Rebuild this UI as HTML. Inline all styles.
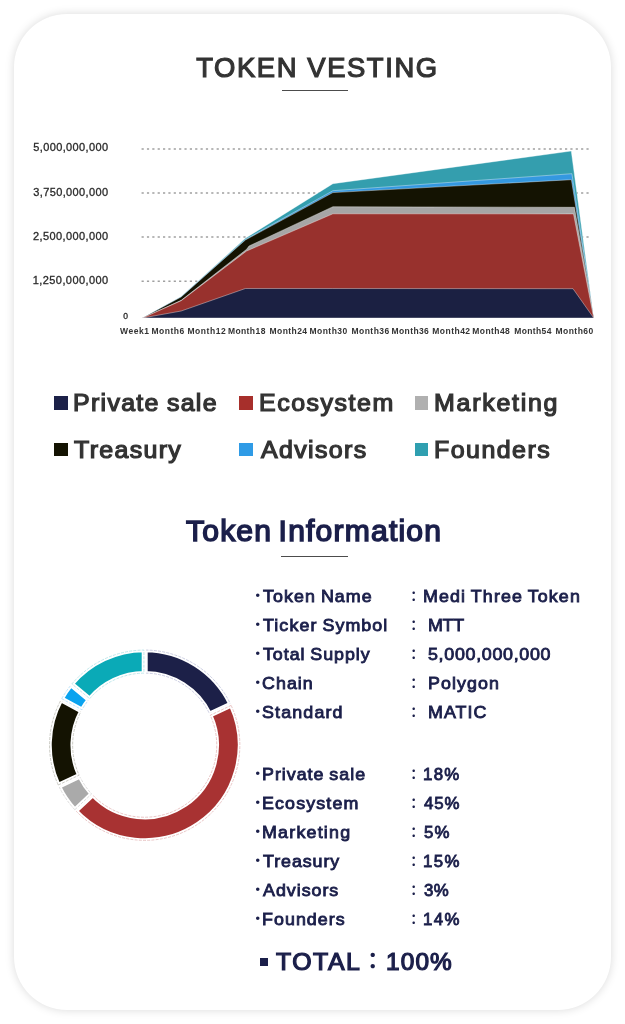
<!DOCTYPE html>
<html lang="en"><head><meta charset="utf-8"><title>Token Vesting</title>
<style>
html,body{margin:0;padding:0}
body{width:625px;height:1024px;background:#fff;position:relative;overflow:hidden;font-family:"Liberation Sans","Noto Sans CJK JP",sans-serif;}
.card{position:absolute;left:14px;top:13.8px;width:597px;height:996.2px;border-radius:53px;background:#fff;box-shadow:0 0 10px rgba(0,0,0,.15);}
.chart,.donut{position:absolute;left:0;top:0}
span,i{position:absolute;white-space:nowrap;display:block;transform-origin:0 0}
.t1{font-size:27.4px;line-height:30px;color:#333;-webkit-text-stroke:1.2px #333}
.t2{font-size:28.8px;line-height:34px;color:#1b1f4a;-webkit-text-stroke:1.45px #1b1f4a}
.ul{position:absolute;height:1.6px;background:#4c4c4c}
.xl{font-size:8.5px;line-height:10px;font-weight:bold;color:#333}
.yl{font-size:11px;line-height:14px;color:#2a2a2a;-webkit-text-stroke:.3px #2a2a2a}
.z{font-size:8.5px;line-height:10px}
.sq{width:13.5px;height:13.6px}
.lg{font-size:23.3px;line-height:28px;color:#333;-webkit-text-stroke:1.2px #333}
.in{font-size:17px;line-height:20px;color:#1b1f4a;-webkit-text-stroke:.85px #1b1f4a}
.bu,.co{font-weight:bold;color:#1b1f4a;line-height:20px}
.bu{left:251px;font-size:13.5px;margin-top:-.6px}
.co{left:407px;font-size:13.4px}
.tsq{left:259.5px;top:957.8px;width:8px;height:8px;background:#1b1f4a}
.tt{font-size:23px;line-height:28px;color:#1b1f4a;-webkit-text-stroke:1.2px #1b1f4a}
.tc{font-size:23px;line-height:28px;font-weight:bold;color:#1b1f4a}
</style></head><body>
<div class="card"></div>
<div class="ul" style="left:281.8px;top:89.6px;width:66.7px"></div>
<svg class="chart" width="625" height="360" viewBox="0 0 625 360">
<line x1="141.56" y1="148.9" x2="589.2" y2="148.9" stroke="#a0a0a0" stroke-width="1.5" stroke-dasharray="2.2 3.16"/>
<line x1="141.56" y1="192.9" x2="589.2" y2="192.9" stroke="#a0a0a0" stroke-width="1.5" stroke-dasharray="2.2 3.16"/>
<line x1="141.56" y1="237.1" x2="589.2" y2="237.1" stroke="#a0a0a0" stroke-width="1.5" stroke-dasharray="2.2 3.16"/>
<line x1="141.56" y1="281.3" x2="589.2" y2="281.3" stroke="#a0a0a0" stroke-width="1.5" stroke-dasharray="2.2 3.16"/>
<polygon points="142.5,318 181.2,296.5 245.4,238.3 332.9,183.7 571.25,151.0 593.7,318" fill="#349eae" stroke="rgba(255,255,255,0.55)" stroke-width="0.7" stroke-linejoin="round"/>
<polygon points="142.5,318 181.2,296.7 245.4,239.4 332.9,190.7 571.9,173.7 593.7,318" fill="#3498e0" stroke="rgba(255,255,255,0.55)" stroke-width="0.7" stroke-linejoin="round"/>
<polygon points="142.5,318 181.2,296.9 245.4,240.0 332.9,192.6 571.4,179.7 593.7,318" fill="#141302" stroke="rgba(255,255,255,0.55)" stroke-width="0.7" stroke-linejoin="round"/>
<polygon points="142.5,318 181.2,300.3 246.6,249.3 249,246.0 332.9,206.7 574.4,207.3 593.7,318" fill="#a6a6a6" stroke="rgba(255,255,255,0.55)" stroke-width="0.7" stroke-linejoin="round"/>
<polygon points="142.5,318 181.2,300.7 246.6,251.0 332.9,213.8 573.5,213.9 593.7,318" fill="#98312d" stroke="rgba(255,255,255,0.55)" stroke-width="0.7" stroke-linejoin="round"/>
<polygon points="142.5,318 181.2,311.0 245.4,288.5 332.9,288.5 573.0,288.7 593.7,318" fill="#1b2042" stroke="rgba(255,255,255,0.55)" stroke-width="0.7" stroke-linejoin="round"/>
</svg>
<i class="sq" style="left:54.0px;top:396.2px;background:#1c2148"></i><i class="sq" style="left:239.3px;top:396.1px;background:#a72f2b"></i><i class="sq" style="left:414.8px;top:396.2px;background:#b0b0b0"></i><i class="sq" style="left:54.0px;top:442.9px;background:#141302"></i><i class="sq" style="left:239.3px;top:442.9px;background:#2f9be6"></i><i class="sq" style="left:414.8px;top:442.9px;background:#2f9fb0"></i>
<div class="ul" style="left:281.1px;top:555.6px;width:66.7px"></div>
<svg class="donut" width="625" height="1024" viewBox="0 0 625 1024">
<path d="M145.50,650.05 A95.15,95.15 0 0 1 230.45,703.96 L209.55,713.80 A72.05,72.05 0 0 0 145.50,673.15 Z" fill="#1c2048" stroke="#fff" stroke-width="4.4"/>
<path d="M145.50,650.05 A95.15,95.15 0 0 1 230.45,703.96 L209.55,713.80 A72.05,72.05 0 0 0 145.50,673.15 Z" fill="none" stroke="#b4b7d4" stroke-width="0.7" stroke-dasharray="3 1.2"/>
<path d="M231.13,705.41 A95.15,95.15 0 0 1 75.89,810.92 L92.73,795.10 A72.05,72.05 0 0 0 210.23,715.25 Z" fill="#a83232" stroke="#fff" stroke-width="4.4"/>
<path d="M231.13,705.41 A95.15,95.15 0 0 1 75.89,810.92 L92.73,795.10 A72.05,72.05 0 0 0 210.23,715.25 Z" fill="none" stroke="#e0aeae" stroke-width="0.7" stroke-dasharray="3 1.2"/>
<path d="M74.79,809.75 A95.15,95.15 0 0 1 58.95,786.44 L79.85,776.60 A72.05,72.05 0 0 0 91.63,793.94 Z" fill="#aaaaaa" stroke="#fff" stroke-width="4.4"/>
<path d="M74.79,809.75 A95.15,95.15 0 0 1 58.95,786.44 L79.85,776.60 A72.05,72.05 0 0 0 91.63,793.94 Z" fill="none" stroke="#cfcfcf" stroke-width="0.7" stroke-dasharray="3 1.2"/>
<path d="M58.27,784.99 A95.15,95.15 0 0 1 60.94,700.06 L81.18,711.19 A72.05,72.05 0 0 0 79.17,775.15 Z" fill="#141302" stroke="#fff" stroke-width="4.4"/>
<path d="M58.27,784.99 A95.15,95.15 0 0 1 60.94,700.06 L81.18,711.19 A72.05,72.05 0 0 0 79.17,775.15 Z" fill="none" stroke="#b5b5aa" stroke-width="0.7" stroke-dasharray="3 1.2"/>
<path d="M61.71,698.66 A95.15,95.15 0 0 1 70.88,685.17 L88.68,699.89 A72.05,72.05 0 0 0 81.95,709.79 Z" fill="#0aa3ef" stroke="#fff" stroke-width="4.4"/>
<path d="M61.71,698.66 A95.15,95.15 0 0 1 70.88,685.17 L88.68,699.89 A72.05,72.05 0 0 0 81.95,709.79 Z" fill="none" stroke="#a6d8f5" stroke-width="0.7" stroke-dasharray="3 1.2"/>
<path d="M71.90,683.93 A95.15,95.15 0 0 1 143.90,650.05 L143.90,673.15 A72.05,72.05 0 0 0 89.70,698.66 Z" fill="#0aaab7" stroke="#fff" stroke-width="4.4"/>
<path d="M71.90,683.93 A95.15,95.15 0 0 1 143.90,650.05 L143.90,673.15 A72.05,72.05 0 0 0 89.70,698.66 Z" fill="none" stroke="#a6dde3" stroke-width="0.7" stroke-dasharray="3 1.2"/>
</svg>
<span class="t1" style="left:196.20px;top:52.51px;letter-spacing:1.60px">TOKEN VESTING</span>
<span class="t2" style="left:186.30px;top:513.82px;letter-spacing:1.13px;transform:scaleX(1.045);word-spacing:-3px">Token Information</span>
<span class="yl" style="left:33.25px;top:140.39px;letter-spacing:0.38px">5,000,000,000</span>
<span class="yl" style="left:33.25px;top:184.59px;letter-spacing:0.38px">3,750,000,000</span>
<span class="yl" style="left:33.00px;top:228.79px;letter-spacing:0.40px">2,500,000,000</span>
<span class="yl" style="left:32.75px;top:272.79px;letter-spacing:0.42px">1,250,000,000</span>
<span class="yl z" style="left:123.15px;top:311.15px;letter-spacing:0.00px">0</span>
<span class="xl" style="left:120.00px;top:326.25px;letter-spacing:0.58px">Week1</span>
<span class="xl" style="left:151.50px;top:326.25px;letter-spacing:0.50px">Month6</span>
<span class="xl" style="left:187.50px;top:326.25px;letter-spacing:0.53px">Month12</span>
<span class="xl" style="left:227.90px;top:326.25px;letter-spacing:0.42px">Month18</span>
<span class="xl" style="left:269.50px;top:326.25px;letter-spacing:0.43px">Month24</span>
<span class="xl" style="left:309.50px;top:326.25px;letter-spacing:0.47px">Month30</span>
<span class="xl" style="left:351.50px;top:326.25px;letter-spacing:0.47px">Month36</span>
<span class="xl" style="left:391.50px;top:326.25px;letter-spacing:0.40px">Month36</span>
<span class="xl" style="left:432.30px;top:326.25px;letter-spacing:0.47px">Month42</span>
<span class="xl" style="left:472.30px;top:326.25px;letter-spacing:0.43px">Month48</span>
<span class="xl" style="left:514.30px;top:326.25px;letter-spacing:0.36px">Month54</span>
<span class="xl" style="left:555.50px;top:326.25px;letter-spacing:0.47px">Month60</span>
<span class="lg" style="left:72.70px;top:389.23px;letter-spacing:1.22px;transform:scaleX(1.07);word-spacing:-1px">Private sale</span>
<span class="lg" style="left:258.50px;top:389.23px;letter-spacing:1.44px;transform:scaleX(1.07);word-spacing:-1px">Ecosystem</span>
<span class="lg" style="left:433.70px;top:389.23px;letter-spacing:1.64px;transform:scaleX(1.07);word-spacing:-1px">Marketing</span>
<span class="lg" style="left:74.20px;top:436.03px;letter-spacing:1.25px;transform:scaleX(1.07);word-spacing:-1px">Treasury</span>
<span class="lg" style="left:260.75px;top:436.03px;letter-spacing:1.28px;transform:scaleX(1.07);word-spacing:-1px">Advisors</span>
<span class="lg" style="left:433.70px;top:436.03px;letter-spacing:1.38px;transform:scaleX(1.07);word-spacing:-1px">Founders</span>
<span class="in" style="left:262.60px;top:587.01px;letter-spacing:1.01px;transform:scaleX(1.05);word-spacing:-1px">Token Name</span>
<span class="in" style="left:262.60px;top:615.91px;letter-spacing:1.03px;transform:scaleX(1.05);word-spacing:-1px">Ticker Symbol</span>
<span class="in" style="left:262.60px;top:644.91px;letter-spacing:0.90px;transform:scaleX(1.05);word-spacing:-1px">Total Supply</span>
<span class="in" style="left:262.10px;top:673.81px;letter-spacing:0.98px;transform:scaleX(1.05);word-spacing:-1px">Chain</span>
<span class="in" style="left:262.35px;top:702.81px;letter-spacing:1.10px;transform:scaleX(1.05);word-spacing:-1px">Standard</span>
<span class="in" style="left:423.00px;top:587.01px;letter-spacing:1.06px;transform:scaleX(1.05);word-spacing:-1px">Medi Three Token</span>
<span class="in" style="left:427.80px;top:615.91px;letter-spacing:-0.26px;transform:scaleX(1.05);word-spacing:-1px">MTT</span>
<span class="in" style="left:428.15px;top:644.91px;letter-spacing:0.66px;transform:scaleX(1.05);word-spacing:-1px">5,000,000,000</span>
<span class="in" style="left:427.70px;top:673.81px;letter-spacing:1.01px;transform:scaleX(1.05);word-spacing:-1px">Polygon</span>
<span class="in" style="left:427.70px;top:702.81px;letter-spacing:0.98px;transform:scaleX(1.05);word-spacing:-1px">MATIC</span>
<span class="in" style="left:261.70px;top:765.11px;letter-spacing:0.94px;transform:scaleX(1.05);word-spacing:-1px">Private sale</span>
<span class="in" style="left:261.70px;top:794.11px;letter-spacing:1.08px;transform:scaleX(1.05);word-spacing:-1px">Ecosystem</span>
<span class="in" style="left:261.70px;top:823.11px;letter-spacing:1.16px;transform:scaleX(1.05);word-spacing:-1px">Marketing</span>
<span class="in" style="left:262.70px;top:852.11px;letter-spacing:0.88px;transform:scaleX(1.05);word-spacing:-1px">Treasury</span>
<span class="in" style="left:263.20px;top:881.11px;letter-spacing:0.93px;transform:scaleX(1.05);word-spacing:-1px">Advisors</span>
<span class="in" style="left:261.70px;top:910.11px;letter-spacing:0.99px;transform:scaleX(1.05);word-spacing:-1px">Founders</span>
<span class="in" style="left:423.45px;top:765.11px;letter-spacing:1.34px;transform:scaleX(0.99)">18%</span>
<span class="in" style="left:424.20px;top:794.11px;letter-spacing:0.96px;transform:scaleX(0.99)">45%</span>
<span class="in" style="left:423.95px;top:823.11px;letter-spacing:1.11px;transform:scaleX(0.99)">5%</span>
<span class="in" style="left:423.45px;top:852.11px;letter-spacing:1.44px;transform:scaleX(0.99)">15%</span>
<span class="in" style="left:423.95px;top:881.11px;letter-spacing:0.51px;transform:scaleX(0.99)">3%</span>
<span class="in" style="left:423.45px;top:910.11px;letter-spacing:1.44px;transform:scaleX(0.99)">14%</span>
<span class="tt" style="left:276.10px;top:947.63px;letter-spacing:1.41px;transform:scaleX(1.08)">TOTAL</span>
<span class="tt" style="left:386.35px;top:947.63px;letter-spacing:1.07px;transform:scaleX(1.06)">100%</span>

<span class="bu" style="top:586.9px">・</span><span class="co" style="top:586.9px">：</span><span class="bu" style="top:615.8px">・</span><span class="co" style="top:615.8px">：</span><span class="bu" style="top:644.8px">・</span><span class="co" style="top:644.8px">：</span><span class="bu" style="top:673.7px">・</span><span class="co" style="top:673.7px">：</span><span class="bu" style="top:702.7px">・</span><span class="co" style="top:702.7px">：</span><span class="bu" style="top:765px">・</span><span class="co" style="top:765px">：</span><span class="bu" style="top:794px">・</span><span class="co" style="top:794px">：</span><span class="bu" style="top:823px">・</span><span class="co" style="top:823px">：</span><span class="bu" style="top:852px">・</span><span class="co" style="top:852px">：</span><span class="bu" style="top:881px">・</span><span class="co" style="top:881px">：</span><span class="bu" style="top:910px">・</span><span class="co" style="top:910px">：</span>
<i class="tsq"></i><span class="tc" style="left:361.3px;top:947.3px">：</span>
</body></html>
